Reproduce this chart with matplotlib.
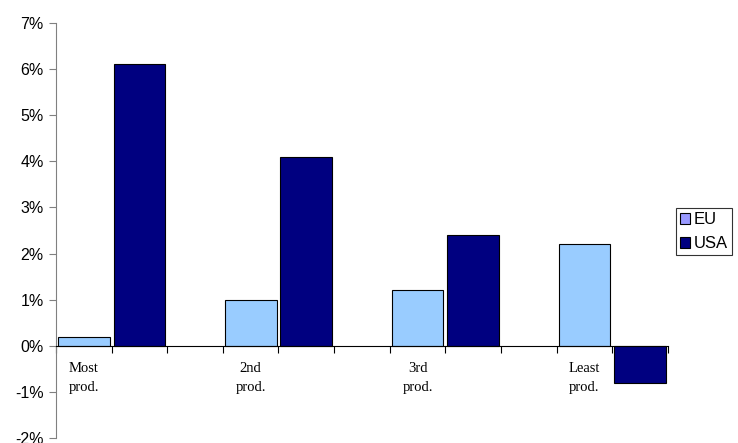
import matplotlib.pyplot as plt
import numpy as np
from matplotlib.ticker import FuncFormatter, MultipleLocator

# growth by productivity quartile, in percent
groups = ["Most\nprod.", "2nd\nprod.", "3rd\nprod.", "Least\nprod."]
eu = [0.2, 1.0, 1.2, 2.2]
usa = [6.1, 4.1, 2.4, -0.8]

fig = plt.figure(figsize=(7.38, 4.43), dpi=100)
ax = fig.add_axes([0.0759, 0.0113, 0.829, 0.937])

# each group takes three slots: EU, USA, empty gap
pos = np.arange(len(groups)) * 3
w = 0.93
ax.bar(pos + 0.5, eu, width=w, color="#99CCFF", edgecolor="black", linewidth=0.8, label="EU")
ax.bar(pos + 1.5, usa, width=w, color="#000080", edgecolor="black", linewidth=0.8, label="USA")

ax.set_xlim(0, 11)
ax.set_ylim(-2, 7)
ax.yaxis.set_major_locator(MultipleLocator(1))
ax.yaxis.set_major_formatter(FuncFormatter(lambda v, p: f"{v:.0f}%"))
for lab in ax.get_yticklabels():
    lab.set_fontfamily("Liberation Sans")
    lab.set_fontsize(11.5)

# x axis sits on the zero line
for s in ["top", "right"]:
    ax.spines[s].set_visible(False)
ax.spines["bottom"].set_position(("data", 0))
ax.spines["left"].set_color("#808080")
ax.set_xticks(np.arange(0, 12))
ax.set_xticklabels([])
ax.tick_params(axis="x", direction="out", length=5, width=0.8)
ax.tick_params(axis="y", direction="out", length=5, width=0.8, color="#808080", pad=4)

for p, g in zip(pos, groups):
    ax.text(p + 0.5, -0.35, g, ha="center", va="top", fontsize=10.5,
            family="Liberation Serif", linespacing=1.6)

leg = ax.legend(loc="center left", bbox_to_anchor=(1.013, 0.497), frameon=True,
                fancybox=False, edgecolor="black", prop={"family": "Liberation Sans", "size": 12},
                handlelength=0.6, handleheight=0.6, handletextpad=0.2, borderpad=0.25,
                labelspacing=0.55, borderaxespad=0)
leg.get_frame().set_linewidth(0.8)
leg.legend_handles[0].set_facecolor("#9999FF")

fig.savefig("out.png", dpi=100)
